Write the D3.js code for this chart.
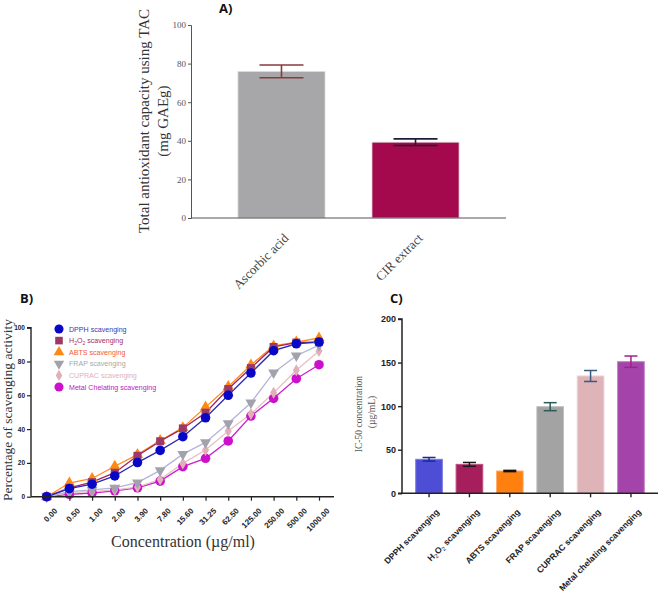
<!DOCTYPE html>
<html><head><meta charset="utf-8">
<script src="https://cdn.jsdelivr.net/npm/d3@7"></script>
<style>body{margin:0;background:#fff}svg{display:block}</style>
</head><body>
<svg id="c" width="661" height="594"></svg>
<script>
// ---------- Panel A data ----------
const tacCategories = ["Ascorbic acid", "CIR extract"];
const tacValues = [76, 39.3];
const tacErrors = [3.3, 1.7];
const tacTicks = [0, 20, 40, 60, 80, 100];

// ---------- Panel B data ----------
const concLabels = ["0.00","0.50","1.00","2.00","3.90","7.80","15.60","31.25","62.50","125.00","250.00","500.00","1000.00"];
const seriesNames = ["DPPH scavenging","H2O2 scavenging","ABTS scavenging","FRAP scavenging","CUPRAC scavenging","Metal Chelating scavenging"];
const dpphValues  = [0, 4.8, 7.4, 12.3, 20.2, 27.4, 35.5, 46.7, 60.0, 73.2, 86.4, 90.5, 91.5];
const h2o2Values  = [0, 5.2, 8.6, 14.2, 24.2, 32.8, 40.4, 49.7, 63.7, 76.1, 88.6, 91.2, 91.6];
const abtsValues  = [0, 8.1, 10.8, 18.0, 24.9, 33.2, 40.8, 53.0, 65.1, 77.9, 89.2, 91.5, 93.9];
const frapValues  = [0, 3.0, 4.0, 5.2, 8.3, 15.6, 25.2, 32.1, 43.4, 55.6, 73.4, 83.4, 89.7];
const cupracValues= [0, 2.6, 3.0, 4.0, 5.7, 10.2, 19.7, 27.6, 38.9, 48.9, 61.5, 74.8, 86.2];
const metalValues = [0, 1.4, 2.2, 3.5, 5.3, 9.2, 17.8, 22.7, 33.0, 47.7, 58.2, 69.8, 78.1];
const pctTicks = [0, 20, 40, 60, 80, 100];

// ---------- Panel C data ----------
const icCategories = ["DPPH scavenging","H2O2 scavenging","ABTS scavenging","FRAP scavenging","CUPRAC scavenging","Metal chelating scavenging"];
const icValues = [39, 33.2, 25.6, 99.4, 134.6, 151];
const icErrors = [2.1, 2.2, 0.7, 4.6, 6.3, 6.5];
const icTicks = [0, 50, 100, 150, 200];

const svg = d3.select("#c");
const serif = "'Liberation Serif', 'Times New Roman', serif";
const sans = "'Liberation Sans', Arial, sans-serif";
const titleFont = "'Open Sans', 'Noto Sans', sans-serif";

// ================= Panel A =================
{
  const x = d3.scaleBand().domain(tacCategories).range([191, 506]).padding(0.35);
  const y = d3.scaleLinear().domain([0, 100]).range([218, 25]);
  const g = svg.append("g");
  const colors = ["#a7a7a9", "#a3094c"];
  const errColors = ["#8a3a3a", "#1d1d3a"];
  g.selectAll("rect").data(tacValues).join("rect")
    .attr("x", (d,i)=>x(tacCategories[i])).attr("width", x.bandwidth())
    .attr("y", d=>y(d)).attr("height", d=>y(0)-y(d))
    .attr("fill", (d,i)=>colors[i]).attr("stroke", "#e4e4e4").attr("stroke-width", 0.8);
  tacValues.forEach((v,i)=>{
    const cx = x(tacCategories[i]) + x.bandwidth()/2;
    const eg = g.append("g").attr("stroke", errColors[i]).attr("stroke-width", 1.6);
    eg.append("line").attr("x1", cx).attr("x2", cx).attr("y1", y(v+tacErrors[i])).attr("y2", y(v-tacErrors[i]));
    [v+tacErrors[i], v-tacErrors[i]].forEach(e=>eg.append("line").attr("x1", cx-22).attr("x2", cx+22).attr("y1", y(e)).attr("y2", y(e)));
  });
  const ya = g.append("g").attr("transform","translate(191,0)")
    .call(d3.axisLeft(y).tickValues(tacTicks).tickSize(3).tickPadding(2));
  ya.select(".domain").attr("stroke","#555");
  ya.selectAll(".tick line").attr("stroke","#555");
  ya.selectAll("text").attr("font-family", serif).attr("font-size", 9).attr("fill","#555");
  const xa = g.append("g").attr("transform","translate(0,218)")
    .call(d3.axisBottom(x).tickSize(0).tickPadding(0));
  xa.select(".domain").attr("stroke","#555").attr("d","M191,0H506");
  xa.selectAll("text").attr("font-family", serif).attr("font-size", 13).attr("fill","#444")
    .attr("text-anchor","end").attr("dy",0)
    .attr("transform","translate(8,21) rotate(-45)");
  svg.append("text").attr("transform","translate(149,121) rotate(-90)")
    .attr("text-anchor","middle").attr("font-family", serif).attr("font-size", 15).attr("fill","#333")
    .text("Total antioxidant capacity using TAC");
  svg.append("text").attr("transform","translate(168,121) rotate(-90)")
    .attr("text-anchor","middle").attr("font-family", serif).attr("font-size", 15).attr("fill","#333")
    .text("(mg GAEg)");
  svg.append("text").attr("x", 219).attr("y", 13).attr("font-family", titleFont).attr("font-weight","bold")
    .attr("font-size", 13).attr("fill","#111").text("A)");
}

// ================= Panel B =================
{
  const x = d3.scalePoint().domain(concLabels).range([46.7, 319]);
  const y = d3.scaleLinear().domain([0, 100]).range([496.7, 327.7]);
  const g = svg.append("g");
  const series = [
    {name: seriesNames[0], vals: dpphValues, line: "#2a2ab5", fill: "#0707c8", text: "#3a3ab0", shape: "circle", size: 72},
    {name: seriesNames[1], vals: h2o2Values, line: "#a3215c", fill: "#9b3a66", text: "#a0306a", shape: "square", size: 64},
    {name: seriesNames[2], vals: abtsValues, line: "#ff8a1e", fill: "#ff8a12", text: "#f05a3c", shape: "triangle", size: 56},
    {name: seriesNames[3], vals: frapValues, line: "#b3b3dc", fill: "#a2a2ad", text: "#a8a8a8", shape: "triangleDown", size: 52},
    {name: seriesNames[4], vals: cupracValues, line: "#e6c0c6", fill: "#dfb0b8", text: "#deb0be", shape: "diamond", size: 42},
    {name: seriesNames[5], vals: metalValues, line: "#cc22cc", fill: "#cc10cc", text: "#c020c0", shape: "circle", size: 72}
  ];
  const symType = s => ({circle: d3.symbolCircle, square: d3.symbolSquare, triangle: d3.symbolTriangle,
    triangleDown: d3.symbolTriangle, diamond: d3.symbolDiamond})[s];
  const line = d3.line().x((d,i)=>x(concLabels[i])).y(d=>y(d));
  series.slice().reverse().forEach(s=>{
    g.append("path").datum(s.vals).attr("d", line).attr("fill","none").attr("stroke", s.line).attr("stroke-width", 1.3);
  });
  series.slice().reverse().forEach(s=>{
    const sym = d3.symbol().type(symType(s.shape)).size(s.size);
    g.selectAll(null).data(s.vals).join("path")
      .attr("d", sym)
      .attr("transform", (d,i)=>`translate(${x(concLabels[i])},${y(d)})` + (s.shape==="triangleDown" ? " rotate(180)" : ""))
      .attr("fill", s.fill);
  });
  const ya = g.append("g").attr("transform","translate(31,0)")
    .call(d3.axisLeft(y).tickValues(pctTicks).tickSize(4).tickPadding(2));
  ya.select(".domain").attr("stroke","#222").attr("stroke-width",1.4).attr("d","M-4,327.7H0V496.7");
  ya.selectAll(".tick line").attr("stroke","#222").attr("stroke-width",1.2);
  ya.selectAll("text").attr("font-family", sans).attr("font-weight","bold").attr("font-size", 6.5).attr("fill","#222");
  const xa = g.append("g").attr("transform","translate(0,496.7)")
    .call(d3.axisBottom(x).tickSize(4).tickPadding(2));
  xa.select(".domain").attr("stroke","#222").attr("stroke-width",1.4).attr("d","M31,0H334");
  xa.selectAll(".tick line").attr("stroke","#222").attr("stroke-width",1.2);
  xa.selectAll("text").attr("font-family", sans).attr("font-weight","bold").attr("font-size", 8).attr("fill","#222")
    .attr("text-anchor","end").attr("dy",0).attr("transform","translate(6.5,10.5) rotate(-45)");
  // legend
  series.forEach((s,i)=>{
    const ly = 329 + i*11.6;
    const sym = d3.symbol().type(symType(s.shape)).size(s.size*0.9);
    g.append("path").attr("d", sym)
      .attr("transform", `translate(59,${ly})` + (s.shape==="triangleDown" ? " rotate(180)" : ""))
      .attr("fill", s.fill);
    const t = g.append("text").attr("x", 69).attr("y", ly+2.6).attr("font-family", sans).attr("font-size", 7.1).attr("fill", s.text);
    if (s.name.startsWith("H2O2")) {
      t.append("tspan").text("H");
      t.append("tspan").text("2").attr("font-size",5).attr("dy",2);
      t.append("tspan").text("O").attr("dy",-2);
      t.append("tspan").text("2").attr("font-size",5).attr("dy",2);
      t.append("tspan").text(" scavenging").attr("dy",-2);
    } else t.text(s.name);
  });
  svg.append("text").attr("transform","translate(12,410) rotate(-90)")
    .attr("text-anchor","middle").attr("font-family", serif).attr("font-size", 13.5).attr("fill","#333")
    .text("Percentage of scavenging activity");
  svg.append("text").attr("x", 183).attr("y", 547)
    .attr("text-anchor","middle").attr("font-family", serif).attr("font-size", 16).attr("fill","#333")
    .text("Concentration (\u00b5g/ml)");
  svg.append("text").attr("x", 20).attr("y", 303).attr("font-family", titleFont).attr("font-weight","bold")
    .attr("font-size", 13).attr("fill","#111").text("B)");
}

// ================= Panel C =================
{
  const x = d3.scaleBand().domain(icCategories).range([402, 658]).padding(0.34);
  const y = d3.scaleLinear().domain([0, 200]).range([493.3, 319]);
  const g = svg.append("g");
  const colors = ["#4d4dd6", "#a61e5c", "#ff7f0f", "#a3a3a3", "#dfb4b9", "#a444ab"];
  const strokes = ["#7a7ae0", "#b85080", "#ffb070", "#c0c0c0", "#ecd0d4", "#c07cc5"];
  const errColors = ["#1e2a9a", "#1a1a1a", "#111111", "#2b5a58", "#3a5a80", "#a02090"];
  g.selectAll("rect").data(icValues).join("rect")
    .attr("x", (d,i)=>x(icCategories[i])).attr("width", x.bandwidth())
    .attr("y", d=>y(d)).attr("height", d=>y(0)-y(d))
    .attr("fill", (d,i)=>colors[i]).attr("stroke", (d,i)=>strokes[i]).attr("stroke-width", 1);
  icValues.forEach((v,i)=>{
    const cx = x(icCategories[i]) + x.bandwidth()/2;
    const eg = g.append("g").attr("stroke", errColors[i]).attr("stroke-width", 1.5);
    eg.append("line").attr("x1", cx).attr("x2", cx).attr("y1", y(v+icErrors[i])).attr("y2", y(v-icErrors[i]));
    [v+icErrors[i], v-icErrors[i]].forEach(e=>eg.append("line").attr("x1", cx-6.5).attr("x2", cx+6.5).attr("y1", y(e)).attr("y2", y(e)));
  });
  const ya = g.append("g").attr("transform","translate(402,0)")
    .call(d3.axisLeft(y).tickValues(icTicks).tickSize(4).tickPadding(2));
  ya.select(".domain").attr("stroke","#222").attr("stroke-width",1.5).attr("d","M-4,319H0V493.3");
  ya.selectAll(".tick line").attr("stroke","#222").attr("stroke-width",1.4);
  ya.selectAll("text").attr("font-family", sans).attr("font-weight","bold").attr("font-size", 9).attr("fill","#222");
  const xa = g.append("g").attr("transform","translate(0,493.3)")
    .call(d3.axisBottom(x).tickSize(4).tickPadding(2));
  xa.select(".domain").attr("stroke","#222").attr("stroke-width",1.5).attr("d","M398,0H658");
  xa.selectAll(".tick line").attr("stroke","#222").attr("stroke-width",1.4);
  xa.selectAll("text").attr("font-family", sans).attr("font-weight","bold").attr("font-size", 8.6).attr("fill","#222")
    .attr("text-anchor","end").attr("dy",0).attr("transform","translate(6.5,15) rotate(-45)")
    .each(function(d){
      if (d.startsWith("H2O2")) {
        const t = d3.select(this).text("");
        t.append("tspan").text("H");
        t.append("tspan").text("2").attr("font-size",6.2).attr("dy",2).attr("font-weight","normal");
        t.append("tspan").text("O").attr("dy",-2);
        t.append("tspan").text("2").attr("font-size",6.2).attr("dy",2).attr("font-weight","normal");
        t.append("tspan").text(" scavenging").attr("dy",-2);
      }
    });
  svg.append("text").attr("transform","translate(362,414) rotate(-90)")
    .attr("text-anchor","middle").attr("font-family", serif).attr("font-size", 9.5).attr("fill","#555")
    .text("IC-50 concentration");
  svg.append("text").attr("transform","translate(375,412) rotate(-90)")
    .attr("text-anchor","middle").attr("font-family", serif).attr("font-size", 9.5).attr("fill","#555")
    .text("(\u00b5g/mL)");
  svg.append("text").attr("x", 390).attr("y", 303).attr("font-family", titleFont).attr("font-weight","bold")
    .attr("font-size", 13).attr("fill","#111").text("C)");
}
</script>
</body></html>
